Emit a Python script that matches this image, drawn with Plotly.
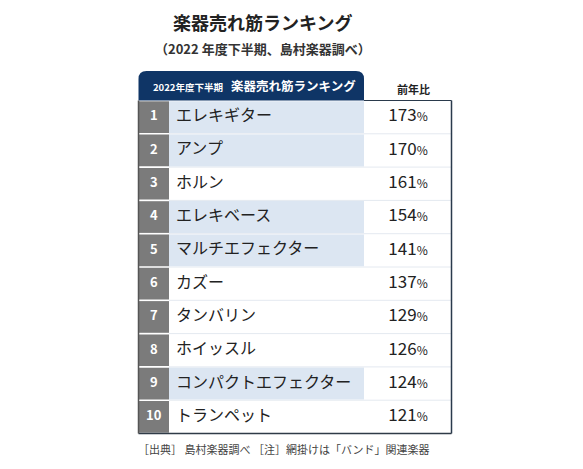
import plotly.graph_objects as go

# data
ranks = [1, 2, 3, 4, 5, 6, 7, 8, 9, 10]
names = ["エレキギター", "アンプ", "ホルン", "エレキベース", "マルチエフェクター",
         "カズー", "タンバリン", "ホイッスル", "コンパクトエフェクター", "トランペット"]
ratios = [173, 170, 161, 154, 141, 137, 129, 126, 124, 121]
band_related = [True, True, False, True, True, False, False, False, True, False]

title = "楽器売れ筋ランキング"
subtitle = "（2022 年度下半期、島村楽器調べ）"
header_small = "2022年度下半期"
header_main = "楽器売れ筋ランキング"
header_ratio = "前年比"
footer = "［出典］ 島村楽器調べ ［注］網掛けは「バンド」関連楽器"

# layout geometry (pixel-like units, axes span the whole page)
W, H = 583, 469
PAGE_OFF = 8  # the page body margin pushes the figure 8px right/down
X_LEFT, X_RANK, X_NAME, X_RIGHT = 138.5, 169, 364, 451.5
Y_HEAD, Y_TOP, ROW_H = 71, 100.5, 33.3
FONT = "Noto Sans CJK JP"
NAVY = "#0f3566"
GRAY = "#7b7b7b"
BLUE = "#dce6f2"

row_mid = [Y_TOP + (i + 0.5) * ROW_H for i in range(len(ranks))]

shapes = []
# faint separators between rows
for i in range(1, len(ranks)):
    y = Y_TOP + i * ROW_H
    shapes.append(dict(type="line", x0=X_RANK, x1=X_RIGHT, y0=y, y1=y,
                       line=dict(color="#e4e9f0", width=1), layer="below"))
for i, hl in enumerate(band_related):
    y0 = Y_TOP + i * ROW_H
    y1 = y0 + ROW_H
    shapes.append(dict(type="rect", x0=X_LEFT, x1=X_RANK, y0=y0 + 0.8, y1=y1 - 0.8,
                       fillcolor=GRAY, line=dict(width=0), layer="below"))
    if hl:
        shapes.append(dict(type="rect", x0=X_RANK, x1=X_NAME, y0=y0 + 0.7, y1=y1 - 0.7,
                           fillcolor=BLUE, line=dict(width=0), layer="below"))

# header with rounded top corners
r = 8
shapes.append(dict(type="path",
                   path=f"M {X_LEFT},{Y_TOP} L {X_LEFT},{Y_HEAD + r} Q {X_LEFT},{Y_HEAD} {X_LEFT + r},{Y_HEAD} "
                        f"L {X_NAME - r},{Y_HEAD} Q {X_NAME},{Y_HEAD} {X_NAME},{Y_HEAD + r} L {X_NAME},{Y_TOP} Z",
                   fillcolor=NAVY, line=dict(width=0), layer="below"))
# outer borders
Y_BOT = Y_TOP + len(ranks) * ROW_H
shapes += [
    dict(type="line", x0=X_NAME, x1=X_RIGHT, y0=Y_TOP, y1=Y_TOP, line=dict(color="#2a3a4c", width=1)),
    dict(type="line", x0=X_RIGHT, x1=X_RIGHT, y0=Y_TOP, y1=Y_BOT, line=dict(color="#2a3a4c", width=1.5)),
    dict(type="line", x0=X_LEFT, x1=X_RIGHT, y0=Y_BOT, y1=Y_BOT, line=dict(color="#2f3b47", width=1.5)),
    dict(type="line", x0=X_LEFT, x1=X_LEFT, y0=Y_TOP, y1=Y_BOT, line=dict(color="#555555", width=1.5)),
]

fig = go.Figure()
fig.add_trace(go.Scatter(
    x=[(X_LEFT + X_RANK) / 2] * len(ranks), y=row_mid, mode="text",
    text=[str(v) for v in ranks], textposition="middle center",
    textfont=dict(family=FONT, size=13, color="white", weight="bold"),
    hoverinfo="skip"))
fig.add_trace(go.Scatter(
    x=[X_RANK + 7] * len(names), y=row_mid, mode="text",
    text=names, textposition="middle right",
    textfont=dict(family=FONT, size=16, color="#222222"),
    hoverinfo="skip"))
fig.add_trace(go.Scatter(
    x=[408] * len(ratios), y=row_mid, mode="text",
    text=[f"{v}<span style='font-size:12px'>%</span>" for v in ratios],
    textposition="middle center",
    textfont=dict(family=FONT, size=17, color="#222222"),
    hoverinfo="skip"))

annotations = [
    dict(x=262, y=22, text=f"<b>{title}</b>", font=dict(family=FONT, size=18, color="#222222")),
    dict(x=263, y=48, text=f"<b>{subtitle}</b>", font=dict(family=FONT, size=13, color="#333333")),
    dict(x=151, y=86.5, text=f"<b>{header_small}</b>", xanchor="left",
         font=dict(family=FONT, size=9.5, color="white")),
    dict(x=229, y=85.5, text=f"<b>{header_main}</b>", xanchor="left",
         font=dict(family=FONT, size=12.5, color="white")),
    dict(x=413, y=89, text=f"<b>{header_ratio}</b>", font=dict(family=FONT, size=11, color="#222222")),
    dict(x=136, y=449, text=footer, xanchor="left", font=dict(family=FONT, size=11, color="#444444")),
]
for a in annotations:
    a.update(xref="x", yref="y", showarrow=False)

fig.update_layout(
    width=W, height=H,
    margin=dict(l=0, r=0, t=0, b=0),
    paper_bgcolor="white", plot_bgcolor="white",
    showlegend=False,
    shapes=shapes, annotations=annotations,
    xaxis=dict(range=[PAGE_OFF, W + PAGE_OFF], visible=False, fixedrange=True),
    yaxis=dict(range=[H + PAGE_OFF, PAGE_OFF], visible=False, fixedrange=True),
)

fig.write_html("out.html")
